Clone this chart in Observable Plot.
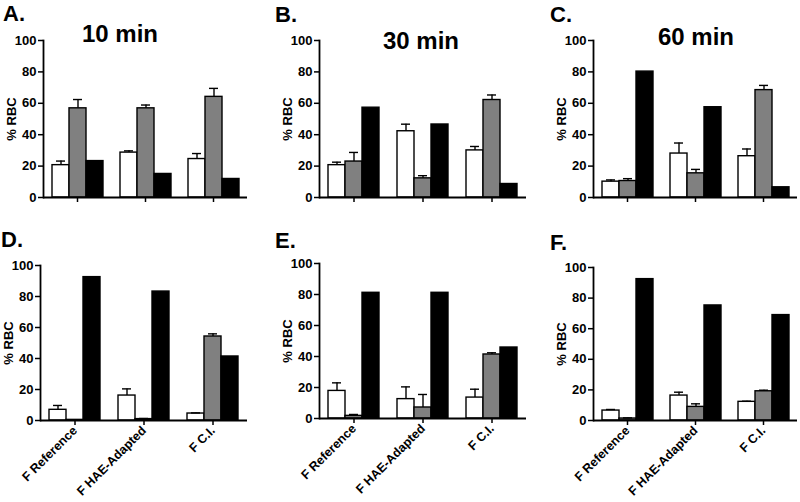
<!DOCTYPE html>
<html><head><meta charset="utf-8">
<script src="https://cdn.jsdelivr.net/npm/d3@7"></script>
<script src="https://cdn.jsdelivr.net/npm/@observablehq/plot@0.6"></script>
<style>
body{margin:0;background:#fff;}
#wrap{position:relative;width:800px;height:502px;overflow:hidden;font-family:"Liberation Sans",Arial,sans-serif;color:#000;}
.panel{position:absolute;}
.letter{position:absolute;font-weight:bold;font-size:22px;line-height:1;}
.title{position:absolute;width:200px;text-align:center;font-weight:bold;font-size:24px;line-height:1;}
</style></head><body><div id="wrap"></div>
<script>
const groups = ["F Reference", "F HAE-Adapted", "F C.I."];
const series = ["Open", "Gray", "Black"];
const seriesFill = ["white", "#808080", "black"];
const panelLetters = ["A.", "B.", "C.", "D.", "E.", "F."];
const panelTitles = ["10 min", "30 min", "60 min", "", "", ""];
const yTicks = [0, 20, 40, 60, 80, 100];

// values: group-major (F Reference, F HAE-Adapted, F C.I.), series-minor (open, gray, black)
const valuesA = [20.6, 56.8, 23.2, 28.6, 56.8, 15.0, 24.5, 64.1, 11.8];
const errorsA = [2.6, 5.6, 0, 1.1, 2.1, 0, 3.5, 5.4, 0];
const valuesB = [20.6, 22.9, 57.2, 42.2, 12.2, 46.5, 30.0, 62.1, 8.6];
const errorsB = [1.9, 5.8, 0, 4.5, 1.7, 0, 2.5, 3.2, 0];
const valuesC = [10.1, 10.5, 80.2, 28.0, 15.4, 57.5, 26.3, 68.4, 6.5];
const errorsC = [1.1, 1.5, 0, 6.7, 2.5, 0, 4.6, 3.0, 0];
const valuesD = [6.9, 0.4, 92.5, 16.1, 0.9, 83.2, 4.5, 54.2, 41.3];
const errorsD = [2.8, 0, 0, 4.3, 0.4, 0, 0.4, 1.7, 0];
const valuesE = [17.8, 1.7, 81.1, 12.5, 7.1, 81.1, 13.5, 41.3, 45.8];
const errorsE = [5.2, 0.9, 0, 7.9, 8.4, 0, 5.4, 1.1, 0];
const valuesF = [6.5, 1.3, 92.4, 16.3, 8.9, 75.2, 12.2, 19.1, 68.9];
const errorsF = [0.7, 0.4, 0, 2.2, 2.0, 0, 0.4, 0.7, 0];

const allValues = [valuesA, valuesB, valuesC, valuesD, valuesE, valuesF];
const allErrors = [errorsA, errorsB, errorsC, errorsD, errorsE, errorsF];

const layout = [
  {left: 0,   top: 0,   width: 265, height: 215, ml: 42, mr: 17, mt: 40, mb: 18},
  {left: 270, top: 0,   width: 265, height: 215, ml: 48, mr: 8,  mt: 40, mb: 18},
  {left: 535, top: 0,   width: 265, height: 215, ml: 57, mr: 3,  mt: 40, mb: 18},
  {left: 0,   top: 210, width: 265, height: 292, ml: 39, mr: 18, mt: 55, mb: 82},
  {left: 270, top: 210, width: 265, height: 292, ml: 48, mr: 8,  mt: 53, mb: 84},
  {left: 535, top: 210, width: 265, height: 292, ml: 57, mr: 3,  mt: 57, mb: 82}
];
const letterPos = [[3,3],[275,4],[550,4],[1,229],[275,230],[550,232]];
const titlePos = [[120,22],[421,29],[696,25]];

function rows(values, errors) {
  return values.map((v, i) => ({
    group: groups[Math.floor(i / 3)],
    series: series[i % 3],
    value: v,
    err: errors[i],
    top: v + errors[i]
  }));
}

const wrap = document.getElementById("wrap");
const font = "'Liberation Sans', Arial, sans-serif";

allValues.forEach((vals, p) => {
  const L = layout[p];
  const data = rows(vals, allErrors[p]);
  const errData = data.filter(d => d.err > 0);
  const bottomRow = p >= 3;
  const chart = Plot.plot({
    width: L.width, height: L.height,
    marginLeft: L.ml, marginRight: L.mr, marginTop: L.mt, marginBottom: L.mb,
    style: {fontFamily: font, fontSize: "13px", fontWeight: "bold", color: "black", background: "transparent", overflow: "visible"},
    fx: {domain: groups, padding: 0},
    x: {domain: series, paddingInner: 0, paddingOuter: 0.45, axis: null},
    y: {domain: [0, 100]},
    color: {domain: series, range: seriesFill},
    marks: [
      Plot.axisY({ticks: yTicks, tickSize: 5, tickPadding: 2, fontWeight: "bold", fontSize: 13,
        label: "% RBC", labelAnchor: "center", labelArrow: "none", labelOffset: 37, strokeWidth: 1.5}),
      Plot.axisFx({anchor: "bottom", tickSize: 5, tickPadding: 3, strokeWidth: 1.5,
        tickFormat: bottomRow ? d => d : () => "",
        tickRotate: bottomRow ? -45 : 0, fontSize: 12.5, fontWeight: "bold", label: null}),
      Plot.frame({anchor: "left", facetAnchor: "left", strokeWidth: 1.8}),
      Plot.barY(data, {fx: "group", x: "series", y: "value", fill: "series", stroke: "black", strokeWidth: 1.4}),
      Plot.ruleX(errData, {fx: "group", x: "series", y1: "value", y2: "top", stroke: "black", strokeWidth: 1.4}),
      Plot.tickY(errData, {fx: "group", x: "series", y: "top", stroke: "black", strokeWidth: 1.4, insetLeft: 4, insetRight: 4}),
      Plot.ruleY([0], {stroke: "black", strokeWidth: 1.8})
    ]
  });
  chart.classList.add("panel");
  chart.style.left = L.left + "px";
  chart.style.top = L.top + "px";
  wrap.appendChild(chart);

  const letter = document.createElement("div");
  letter.className = "letter";
  letter.textContent = panelLetters[p];
  letter.style.left = letterPos[p][0] + "px";
  letter.style.top = letterPos[p][1] + "px";
  wrap.appendChild(letter);

  if (panelTitles[p]) {
    const t = document.createElement("div");
    t.className = "title";
    t.textContent = panelTitles[p];
    t.style.left = (titlePos[p][0] - 100) + "px";
    t.style.top = titlePos[p][1] + "px";
    wrap.appendChild(t);
  }
});
</script>
</body></html>
